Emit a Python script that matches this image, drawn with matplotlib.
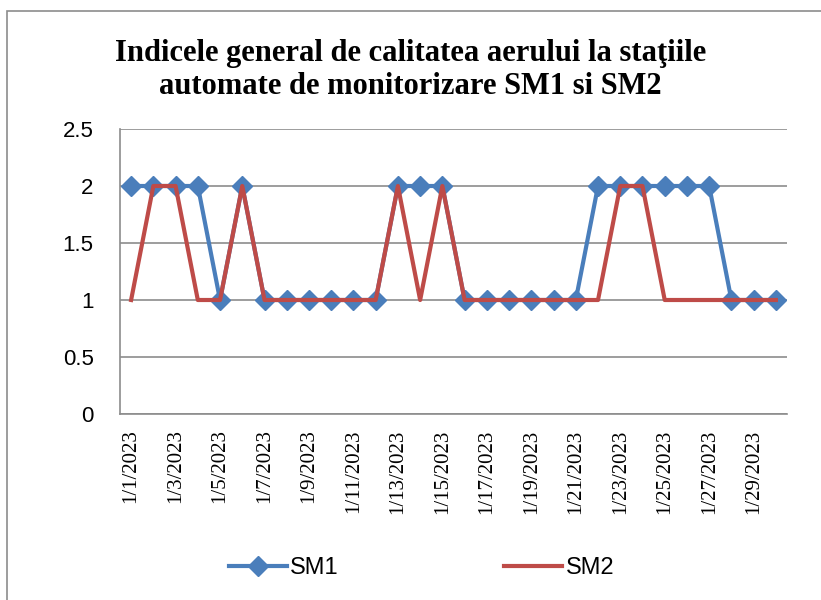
#!/usr/bin/env python3

import matplotlib
matplotlib.use('Agg')
import matplotlib.pyplot as plt
from matplotlib.patches import Rectangle

# dates 1/1/2023 .. 1/30/2023
dates = ['1/%d/2023' % d for d in range(1, 31)]
sm1 = [2, 2, 2, 2, 1, 2, 1, 1, 1, 1, 1, 1, 2, 2, 2,
       1, 1, 1, 1, 1, 1, 2, 2, 2, 2, 2, 2, 1, 1, 1]
sm2 = [1, 2, 2, 1, 1, 2, 1, 1, 1, 1, 1, 1, 2, 1, 2,
       1, 1, 1, 1, 1, 1, 1, 2, 2, 1, 1, 1, 1, 1, 1]
title = 'Indicele general de calitatea aerului la staţiile\nautomate de monitorizare SM1 si SM2'

if __name__ == '__main__':
    # date labels and title are serif in the original
    plt.rcParams['font.family'] = 'Liberation Serif'
    plt.rcParams['xtick.labelsize'] = 15

    fig = plt.figure(figsize=(8.21, 6.0), dpi=100)
    ax = fig.add_axes([120/821, 1 - 414/600, 667/821, 285/600])

    # outer chart frame (only left and top visible in the picture)
    fig.patches.append(Rectangle((7/821, -0.1), 1.2, (600 - 11)/600 + 0.1,
                                 transform=fig.transFigure, fill=False,
                                 edgecolor='#8c8c8c', linewidth=1.2))

    x = list(range(len(dates)))
    ax.plot(x, sm1, color='#4a7ebb', linewidth=3, marker='D',
            markersize=10, label='SM1', zorder=3)
    ax.plot(x, sm2, color='#be4b48', linewidth=3, label='SM2', zorder=4)

    ax.set_xlim(-0.5, len(dates) - 0.5)
    ax.set_ylim(0, 2.5)
    ax.set_yticks([0, 0.5, 1, 1.5, 2, 2.5])
    ax.set_yticklabels(['0', '0.5', '1', '1.5', '2', '2.5'],
                       fontfamily='Liberation Sans', fontsize=16)
    ax.set_xticks(x[::2])
    ax.set_xticklabels(dates[::2], rotation=90)
    ax.tick_params(axis='y', length=0, pad=19)
    ax.tick_params(axis='x', length=0, pad=11)
    ax.grid(axis='y', color='#8c8c8c', linewidth=1.2)
    ax.set_axisbelow(True)
    for s in ['top', 'right']:
        ax.spines[s].set_visible(False)
    for s in ['left', 'bottom']:
        ax.spines[s].set_color('#8c8c8c')
        ax.spines[s].set_linewidth(1.2)

    fig.text(0.5, 1 - 70/600, title, ha='center', va='center',
             fontweight='bold', fontsize=22, linespacing=1.2)

    fig.legend(loc='center', bbox_to_anchor=(0.5 + 11/821, 1 - 568/600),
               ncol=2, frameon=False, columnspacing=7.0, handlelength=2.45,
               handletextpad=0.15,
               prop={'family': 'Liberation Sans', 'size': 17})

    fig.savefig('out.png', dpi=100)
